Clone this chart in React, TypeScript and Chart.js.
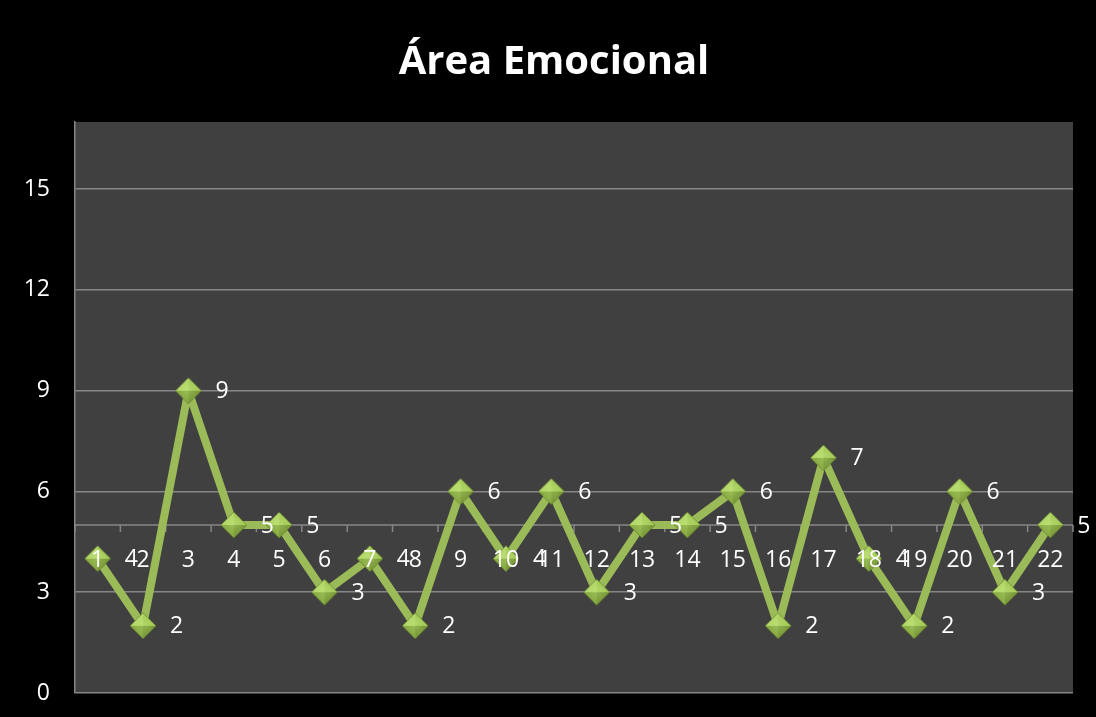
import React, { useEffect, useRef } from "react";
import { Chart, registerables } from "chart.js";

Chart.register(...registerables);

const TITLE = "Área Emocional";
const categories = ["1","2","3","4","5","6","7","8","9","10","11","12","13","14","15","16","17","18","19","20","21","22"];
const values = [4, 2, 9, 5, 5, 3, 4, 2, 6, 4, 6, 3, 5, 5, 6, 2, 7, 4, 2, 6, 3, 5];
const yTicks = [0, 3, 6, 9, 12, 15];
const Y_MIN = 0;
const Y_MAX = 17;
const AXIS_CROSS = 5;

const FONT = "'Open Sans', 'DejaVu Sans', sans-serif";
const GRID = "#868686";
const LINE = "#9bbb59";

function makeDiamond(r: number): HTMLCanvasElement {
  const s = r * 2 + 2;
  const c = document.createElement("canvas");
  c.width = s;
  c.height = s;
  const ctx = c.getContext("2d")!;
  const cx = s / 2, cy = s / 2;
  const T = [cx, cy - r], R = [cx + r, cy], B = [cx, cy + r], L = [cx - r, cy];
  const tri = (a: number[], b: number[], col: string) => {
    ctx.beginPath();
    ctx.moveTo(a[0], a[1]);
    ctx.lineTo(b[0], b[1]);
    ctx.lineTo(cx, cy);
    ctx.closePath();
    ctx.fillStyle = col;
    ctx.fill();
  };
  tri(L, T, "#b4d96a");
  tri(T, R, "#a6cd5a");
  tri(R, B, "#7d9d3c");
  tri(B, L, "#8aad45");
  const g = ctx.createRadialGradient(cx, cy - r * 0.2, 0, cx, cy, r * 0.7);
  g.addColorStop(0, "rgba(200,230,130,0.35)");
  g.addColorStop(1, "rgba(200,230,130,0)");
  ctx.beginPath();
  ctx.moveTo(T[0], T[1]);
  ctx.lineTo(R[0], R[1]);
  ctx.lineTo(B[0], B[1]);
  ctx.lineTo(L[0], L[1]);
  ctx.closePath();
  ctx.fillStyle = g;
  ctx.fill();
  ctx.strokeStyle = "rgba(90,115,40,0.6)";
  ctx.lineWidth = 1;
  ctx.stroke();
  return c;
}

export default function App() {
  const ref = useRef<HTMLCanvasElement | null>(null);

  useEffect(() => {
    if (!ref.current) return;
    const diamond = makeDiamond(13);

    const bgPlugin = {
      id: "bg",
      beforeDraw(chart: any) {
        const { ctx, chartArea, width, height } = chart;
        ctx.save();
        ctx.fillStyle = "#000000";
        ctx.fillRect(0, 0, width, height);
        ctx.fillStyle = "#404040";
        ctx.fillRect(chartArea.left, chartArea.top, chartArea.right - chartArea.left, chartArea.bottom - chartArea.top);
        ctx.fillStyle = "#ffffff";
        ctx.font = `bold 40px ${FONT}`;
        ctx.textAlign = "center";
        ctx.textBaseline = "alphabetic";
        ctx.fillText(TITLE, 554, 74);
        ctx.restore();
      },
    };

    const axisPlugin = {
      id: "midAxis",
      beforeDatasetsDraw(chart: any) {
        const { ctx, chartArea } = chart;
        const x = chart.scales.x;
        const y = chart.scales.y;
        const yp = y.getPixelForValue(AXIS_CROSS);
        ctx.save();
        ctx.strokeStyle = GRID;
        ctx.lineWidth = 1.5;
        ctx.beginPath();
        ctx.moveTo(chartArea.left, yp);
        ctx.lineTo(chartArea.right, yp);
        for (let i = 0; i <= categories.length; i++) {
          const px = x.getPixelForValue(i - 0.5);
          ctx.moveTo(px, yp);
          ctx.lineTo(px, yp + 7);
        }
        ctx.stroke();
        ctx.restore();
      },
      afterDatasetsDraw(chart: any) {
        const { ctx } = chart;
        const x = chart.scales.x;
        const y = chart.scales.y;
        const yp = y.getPixelForValue(AXIS_CROSS);
        ctx.save();
        ctx.fillStyle = "#ffffff";
        ctx.font = `23px ${FONT}`;
        ctx.textBaseline = "middle";
        ctx.textAlign = "center";
        categories.forEach((c, i) => {
          ctx.fillText(c, x.getPixelForValue(i), yp + 35);
        });
        const meta = chart.getDatasetMeta(0);
        ctx.textAlign = "left";
        meta.data.forEach((pt: any, i: number) => {
          ctx.fillText(String(values[i]), pt.x + 27, pt.y + 1);
        });
        ctx.restore();
      },
    };

    const chart = new Chart(ref.current, {
      type: "line",
      data: {
        labels: categories,
        datasets: [
          {
            data: values,
            borderColor: LINE,
            borderWidth: 8,
            borderJoinStyle: "round",
            borderCapStyle: "round",
            tension: 0,
            pointStyle: diamond as any,
            pointRadius: 13,
            pointHoverRadius: 13,
            fill: false,
          },
        ],
      },
      options: {
        responsive: false,
        animation: false,
        events: [],
        layout: { padding: { top: 122, left: 0, right: 23, bottom: 24 } },
        plugins: {
          legend: { display: false },
          title: { display: false },
          tooltip: { enabled: false },
        },
        scales: {
          x: {
            type: "category",
            display: false,
            offset: true,
          },
          y: {
            min: Y_MIN,
            max: Y_MAX,
            afterFit(scale: any) {
              scale.width = 75;
              scale.paddingTop = 0;
              scale.paddingBottom = 0;
            },
            afterBuildTicks(scale: any) {
              scale.ticks = yTicks.map((v) => ({ value: v }));
            },
            grid: {
              color: GRID,
              lineWidth: 1.5,
              drawTicks: false,
            },
            border: { display: true, color: GRID, width: 1.5 },
            ticks: {
              color: "#ffffff",
              padding: 25,
              font: { family: FONT, size: 23 },
            },
          },
        },
      },
      plugins: [bgPlugin, axisPlugin],
    });
    return () => chart.destroy();
  }, []);

  return (
    <div style={{ position: "fixed", left: 0, top: 0, width: 1096, height: 717, background: "#000" }}>
      <canvas ref={ref} width={1096} height={717} style={{ width: 1096, height: 717, display: "block" }} />
    </div>
  );
}
